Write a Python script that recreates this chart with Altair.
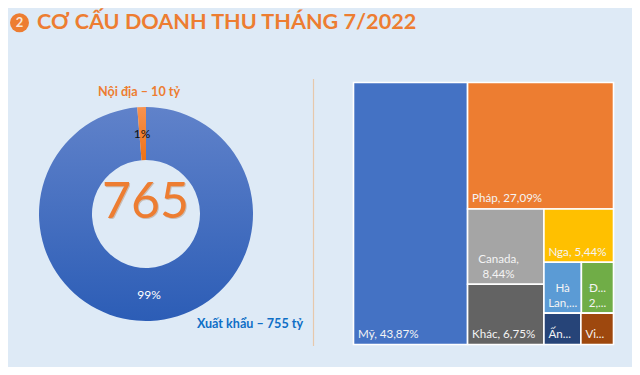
import altair as alt
import pandas as pd

BG = "#deeaf6"
ORANGE = "#ed7d31"
FONT = "Lato, Noto Sans, sans-serif"

title_text = "CƠ CẤU DOANH THU THÁNG 7/2022"
donut_names = ["Xuất khẩu", "Nội địa"]
donut_values = [755, 10]
donut_pct = ["99%", "1%"]
total_text = "765"

countries = ["Mỹ", "Pháp", "Canada", "Khác", "Nga", "Hà Lan", "Đức", "Ấn Độ", "Việt Nam"]
shares = [43.87, 27.09, 8.44, 6.75, 5.44, 2.8, 2.4, 1.7, 1.5]
labels = ["Mỹ, 43,87%", "Pháp, 27,09%", "Canada,\n8,44%", "Khác, 6,75%", "Nga, 5,44%",
          "Hà\nLan,...", "Đ...\n2,...", "Ấn...", "Vi..."]
colors = ["#4472c4", "#ed7d31", "#a5a5a5", "#636363", "#ffc000",
          "#5b9bd5", "#70ad47", "#264478", "#9e480e"]

# Treemap layout derived from the shares (nested slice and dice)
s = dict(zip(countries, shares))
tot = sum(shares)
rects = {}
def col(x0, x1, y0, y1, names):
    t = sum(s[n] for n in names)
    y = y0
    for n in names:
        h = (y1 - y0) * s[n] / t
        rects[n] = (x0, x1, y, y + h)
        y += h
def row(x0, x1, y0, y1, names):
    t = sum(s[n] for n in names)
    x = x0
    for n in names:
        w = (x1 - x0) * s[n] / t
        rects[n] = (x, x + w, y0, y1)
        x += w
x_my = 100 * s["Mỹ"] / tot
rects["Mỹ"] = (0, x_my, 0, 100)
rest = tot - s["Mỹ"]
y_ph = 100 * s["Pháp"] / rest
rects["Pháp"] = (x_my, 100, 0, y_ph)
rest2 = rest - s["Pháp"]
left = s["Canada"] + s["Khác"]
x_mid = x_my + (100 - x_my) * left / rest2
col(x_my, x_mid, y_ph, 100, ["Canada", "Khác"])
right = rest2 - left
y_nga = y_ph + (100 - y_ph) * s["Nga"] / right
rects["Nga"] = (x_mid, 100, y_ph, y_nga)
small = right - s["Nga"]
y_sm = y_nga + (100 - y_nga) * (s["Hà Lan"] + s["Đức"]) / small
row(x_mid, 100, y_nga, y_sm, ["Hà Lan", "Đức"])
row(x_mid, 100, y_sm, 100, ["Ấn Độ", "Việt Nam"])

df = pd.DataFrame([
    dict(name=n, x=rects[n][0], x2=rects[n][1], y=rects[n][2], y2=rects[n][3], label=l, color=c)
    for n, l, c in zip(countries, labels, colors)
])

xs = alt.Scale(domain=[0, 100], range=[345.5, 605.5])
ys = alt.Scale(domain=[0, 100], range=[74.5, 336.5])

tree = alt.Chart(df).mark_rect(stroke="white", strokeWidth=1.6).encode(
    x=alt.X("x:Q", scale=xs, axis=None),
    x2="x2:Q",
    y=alt.Y("y:Q", scale=ys, axis=None),
    y2="y2:Q",
    fill=alt.Fill("color:N", scale=None),
)

single = df[~df["label"].str.contains("\n")]
multi = df[df["label"].str.contains("\n")].copy()
multi["cx"] = [(r.x + 31 * 100 / 260) if r.name == "Canada" else (r.x + r.x2) / 2 for r in multi.itertuples()]

lab_left = alt.Chart(single).mark_text(
    align="left", baseline="bottom", dx=4.5, dy=-4.5, font=FONT, fontSize=11.6, color="#f4f4f4", lineHeight=15
).encode(x=alt.X("x:Q", scale=xs, axis=None), y=alt.Y("y2:Q", scale=ys, axis=None), text="label:N")
lab_center = alt.Chart(multi).mark_text(
    align="center", baseline="bottom", dy=-19.5, font=FONT, fontSize=11.6, color="#f4f4f4", lineBreak="\n", lineHeight=15
).encode(x=alt.X("cx:Q", scale=xs, axis=None), y=alt.Y("y2:Q", scale=ys, axis=None), text="label:N")

# Donut
cx, cy = 138, 206
start = [0, donut_values[0]]
end = [donut_values[0], sum(donut_values)]
ddf = pd.DataFrame({"name": donut_names, "v0": start, "v1": end})
ts = alt.Scale(domain=[0, sum(donut_values)], range=[0, 6.283185307])

def arc(name, top, bottom):
    return alt.Chart(ddf[ddf["name"] == name]).mark_arc(
        outerRadius=107, innerRadius=54, stroke=None,
        fill=alt.Gradient(gradient="linear", x1=0, x2=0, y1=0, y2=1,
                          stops=[alt.GradientStop(color=top, offset=0), alt.GradientStop(color=bottom, offset=1)]),
    ).encode(theta=alt.Theta("v0:Q", scale=ts), theta2="v1:Q", x=alt.value(cx), y=alt.value(cy))

a1 = arc(donut_names[0], "#6082ca", "#2c5db6")
a2 = arc(donut_names[1], "#f89350", "#ef7215")

def txt(s_, x, y, size, color, align="center", weight="normal", font=FONT):
    return alt.Chart(pd.DataFrame({"t": [s_]})).mark_text(
        align=align, baseline="middle", fontSize=size, color=color, fontWeight=weight, font=font
    ).encode(text="t:N", x=alt.value(x), y=alt.value(y))

sep = alt.Chart(pd.DataFrame({"a": [0]})).mark_rule(color="#e7c8ac", strokeWidth=1.2).encode(
    x=alt.value(305.5), y=alt.value(71), y2=alt.value(338))
dot = alt.Chart(pd.DataFrame({"a": [0]})).mark_point(filled=True, size=361, color=ORANGE, opacity=1).encode(
    x=alt.value(11.5), y=alt.value(14.7))

chart = alt.layer(
    sep, a1, a2, tree, lab_left, lab_center, dot,
    txt("2", 11.5, 15.2, 13, "#fbe5d6", weight="bold"),
    txt(title_text, 29, 15, 21.6, ORANGE, align="left", weight="bold"),
    txt(donut_pct[1], 134, 126, 12, "#111111"),
    txt(donut_pct[0], 141, 287, 12, "white"),
    txt(total_text, 138.5, 195.8, 50, "#c9bdb5"),
    txt(total_text, 137.5, 195, 50, ORANGE),
    txt("Nội địa – 10 tỷ", 131, 84, 12.6, ORANGE, weight="bold"),
    txt("Xuất khẩu – 755 tỷ", 242, 316, 12.6, "#0f6fc6", weight="bold"),
).properties(
    width=624, height=359, background=BG, padding=0,
    autosize=alt.AutoSizeParams(type="none"),
).configure_view(stroke=None)

chart.save("out.html", embed_options={"renderer": "svg", "actions": False})
